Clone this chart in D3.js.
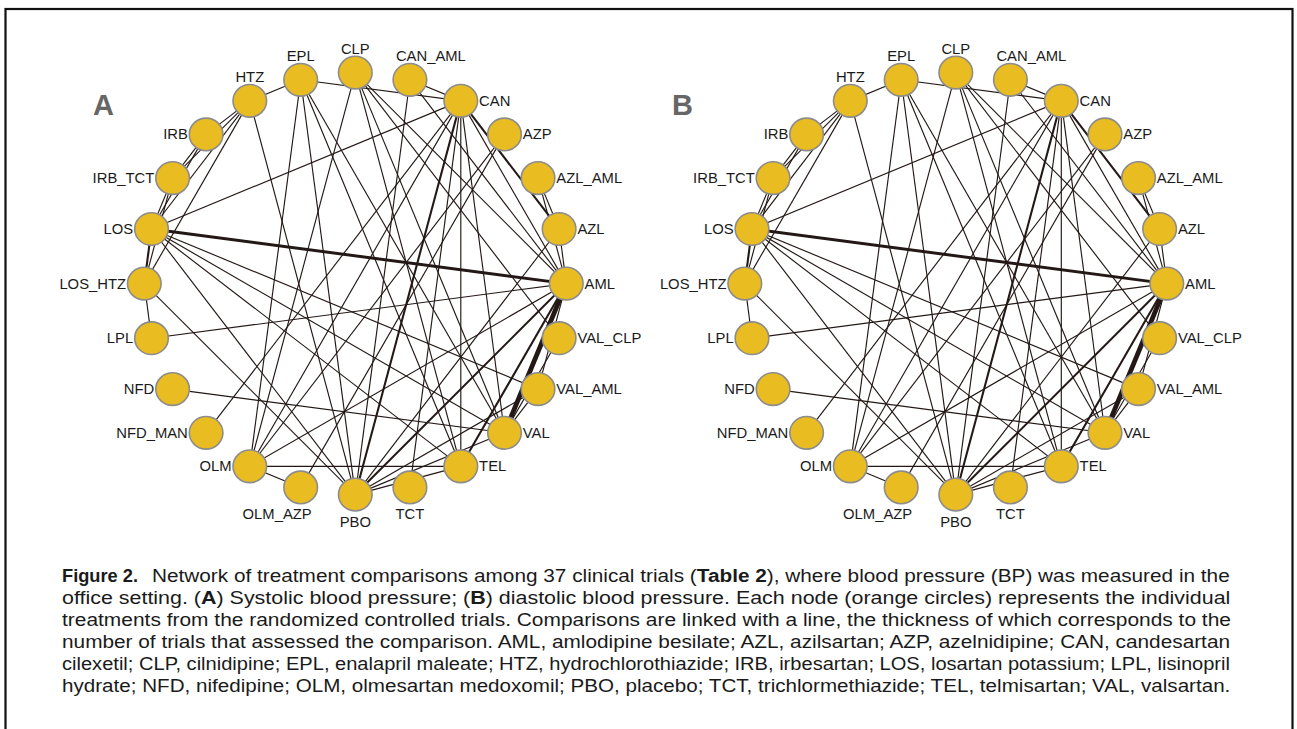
<!DOCTYPE html>
<html>
<head>
<meta charset="utf-8">
<script src="https://cdn.jsdelivr.net/npm/d3@7"></script>
<style>
  html, body { margin: 0; padding: 0; background: #fff; }
  svg { display: block; }
</style>
</head>
<body>
<svg id="chart" width="1297" height="729"></svg>
<script>
// ---- data ----
const treatments = ["CLP","CAN_AML","CAN","AZP","AZL_AML","AZL","AML","VAL_CLP","VAL_AML","VAL","TEL","TCT","PBO","OLM_AZP","OLM","NFD_MAN","NFD","LPL","LOS_HTZ","LOS","IRB_TCT","IRB","HTZ","EPL"];

const panelLetters = ["A", "B"];

// [treatment 1, treatment 2, number of trials]
const edgesA = [
  ["HTZ","EPL",1],["EPL","CAN",1],["CAN_AML","CAN",1],["CAN","AZL",2],["AZL_AML","AZL",1],["AZL_AML","AML",1],["AZL","AML",1],
  ["OLM","OLM_AZP",1],["OLM","TEL",1],["LOS_HTZ","LPL",1],["LOS","LOS_HTZ",2],
  ["HTZ","IRB",1],["HTZ","IRB_TCT",1],["HTZ","LOS",1],["HTZ","LOS_HTZ",1],["IRB","IRB_TCT",1],["IRB","LOS",1],["IRB_TCT","LOS",1],["IRB_TCT","LOS_HTZ",1],
  ["LOS","AML",3],["LOS","CAN",1],["LOS","VAL",1],["LOS","TEL",1],["LOS","PBO",1],["LOS","VAL_AML",1],["LOS_HTZ","PBO",1],["LPL","AML",1],["NFD","VAL",1],["NFD_MAN","CAN",1],
  ["HTZ","PBO",1],["EPL","OLM",1],["EPL","PBO",1],["EPL","TEL",1],["EPL","VAL",1],
  ["CLP","OLM",1],["CLP","TEL",1],["CLP","VAL",1],["CLP","VAL_CLP",1],["CLP","AML",1],
  ["CAN_AML","PBO",1],["CAN_AML","AML",1],
  ["CAN","OLM",1],["CAN","PBO",2],["CAN","TEL",1],["CAN","TCT",1],["CAN","AML",1],["CAN","VAL",1],
  ["AZP","OLM",1],["AZP","OLM_AZP",1],["AZL","PBO",1],
  ["AML","OLM",1],["AML","PBO",2],["AML","TEL",2],["AML","VAL",5],["AML","VAL_AML",1],
  ["VAL","VAL_AML",1],["VAL","VAL_CLP",1],["VAL","PBO",1],["TEL","PBO",1],["PBO","VAL_AML",1]
];

const edgesB = [
  ["HTZ","EPL",1],["EPL","CAN",1],["CAN_AML","CAN",1],["CAN","AZL",2],["AZL_AML","AZL",1],["AZL_AML","AML",1],["AZL","AML",1],
  ["OLM","OLM_AZP",1],["OLM","TEL",1],["LOS_HTZ","LPL",1],["LOS","LOS_HTZ",2],
  ["HTZ","IRB",1],["HTZ","IRB_TCT",1],["HTZ","LOS",1],["HTZ","LOS_HTZ",1],["IRB","IRB_TCT",1],["IRB","LOS",1],["IRB_TCT","LOS",1],["IRB_TCT","LOS_HTZ",1],
  ["LOS","AML",3],["LOS","CAN",1],["LOS","VAL",1],["LOS","TEL",1],["LOS","PBO",1],["LOS","VAL_AML",1],["LOS_HTZ","PBO",1],["LPL","AML",1],["NFD","VAL",1],["NFD_MAN","CAN",1],
  ["HTZ","PBO",1],["EPL","OLM",1],["EPL","PBO",1],["EPL","TEL",1],["EPL","VAL",1],
  ["CLP","OLM",1],["CLP","TEL",1],["CLP","VAL",1],["CLP","VAL_CLP",1],["CLP","AML",1],
  ["CAN_AML","PBO",1],["CAN_AML","AML",1],
  ["CAN","OLM",1],["CAN","PBO",2],["CAN","TEL",1],["CAN","TCT",1],["CAN","AML",1],["CAN","VAL",1],
  ["AZP","OLM",1],["AZP","OLM_AZP",1],["AZL","PBO",1],
  ["AML","OLM",1],["AML","PBO",2],["AML","TEL",2],["AML","VAL",5],["AML","VAL_AML",1],
  ["VAL","VAL_AML",1],["VAL","VAL_CLP",1],["VAL","PBO",1],["TEL","PBO",1],["PBO","VAL_AML",1]
];

const captionTitle = "Figure 2.";
const captionLines = [
  [["Network of treatment comparisons among 37 clinical trials (", ""], ["Table 2", "b"], ["), where blood pressure (BP) was measured in the", ""]],
  [["office setting. (", ""], ["A", "b"], [") Systolic blood pressure; (", ""], ["B", "b"], [") diastolic blood pressure. Each node (orange circles) represents the individual", ""]],
  [["treatments from the randomized controlled trials. Comparisons are linked with a line, the thickness of which corresponds to the", ""]],
  [["number of trials that assessed the comparison. AML, amlodipine besilate; AZL, azilsartan; AZP, azelnidipine; CAN, candesartan", ""]],
  [["cilexetil; CLP, cilnidipine; EPL, enalapril maleate; HTZ, hydrochlorothiazide; IRB, irbesartan; LOS, losartan potassium; LPL, lisinopril", ""]],
  [["hydrate; NFD, nifedipine; OLM, olmesartan medoxomil; PBO, placebo; TCT, trichlormethiazide; TEL, telmisartan; VAL, valsartan.", ""]]
];

// ---- drawing ----
const svg = d3.select("#chart");

// frame
svg.append("rect").attr("x", 5.5).attr("y", 9).attr("width", 1287).attr("height", 740)
  .attr("fill", "none").attr("stroke", "#111").attr("stroke-width", 2.2);

const n = treatments.length;
const angle = d3.scaleLinear().domain([0, n]).range([0, 2 * Math.PI]);
const widthScale = d3.scaleLinear().domain([1, 5]).range([1.15, 4.8]);

const panels = [
  { letter: panelLetters[0], cx: 355.3, cy: 283.6, edges: edgesA, lx: 93, ly: 115 },
  { letter: panelLetters[1], cx: 955.8, cy: 283.6, edges: edgesB, lx: 672, ly: 115 }
];
const R = 211;
const rx = 16.8, ry = 16.3;

panels.forEach(p => {
  const g = svg.append("g");
  const radial = d3.scaleLinear().domain([0, 1]).range([0, R]);
  const pos = {};
  treatments.forEach((t, i) => {
    const a = angle(i);
    pos[t] = { x: p.cx + radial(1) * Math.sin(a), y: p.cy - radial(1) * Math.cos(a), i };
  });

  g.append("text").attr("x", p.lx).attr("y", p.ly)
    .attr("font-family", "Liberation Sans, Arial, sans-serif").attr("font-weight", "bold")
    .attr("font-size", 29).attr("fill", "#666").text(p.letter);

  g.selectAll("line.edge").data(p.edges).join("line")
    .attr("class", "edge")
    .attr("x1", d => pos[d[0]].x).attr("y1", d => pos[d[0]].y)
    .attr("x2", d => pos[d[1]].x).attr("y2", d => pos[d[1]].y)
    .attr("stroke", "#231815").attr("stroke-width", d => widthScale(d[2]))
    .attr("stroke-linecap", "butt");

  g.selectAll("ellipse.node").data(treatments).join("ellipse")
    .attr("class", "node")
    .attr("cx", d => pos[d].x).attr("cy", d => pos[d].y)
    .attr("rx", rx).attr("ry", ry)
    .attr("fill", "#E9BC22").attr("stroke", "#8c8c8c").attr("stroke-width", 1.6);

  const topSet = ["HTZ","EPL","CLP","CAN_AML"];
  const bottomSet = ["OLM_AZP","PBO","TCT"];
  g.selectAll("text.lbl").data(treatments).join("text")
    .attr("class", "lbl")
    .attr("font-family", "Liberation Sans, Arial, sans-serif")
    .attr("font-size", 14.8).attr("fill", "#1a1a1a")
    .each(function(d) {
      const s = d3.select(this);
      const q = pos[d];
      let x, y, anchor;
      if (topSet.includes(d) || bottomSet.includes(d)) {
        y = topSet.includes(d) ? q.y - 19 : q.y + 32;
        if (d.length > 4) {
          if (q.x > p.cx) { anchor = "start"; x = q.x - 14; }
          else { anchor = "end"; x = q.x + 11; }
        } else { anchor = "middle"; x = q.x; }
      } else if (q.x > p.cx) {
        anchor = "start"; x = q.x + rx + 1.5; y = q.y + 5;
      } else {
        anchor = "end"; x = q.x - rx - 1.5; y = q.y + 5;
      }
      s.attr("x", x).attr("y", y).attr("text-anchor", anchor).text(d);
    });
});

// caption
const capX = 62, capRight = 1231, capY0 = 582, capDY = 22;
function fitText(t, x0, x1, y) {
  const natural = t.node().getComputedTextLength();
  const sx = (x1 - x0) / natural;
  t.attr("transform", `translate(${x0},${y}) scale(${sx},1)`);
}
const title = svg.append("text")
  .attr("font-family", "Liberation Sans, Arial, sans-serif")
  .attr("font-weight", "bold").attr("font-size", 18.5).attr("fill", "#1a1a1a")
  .text(captionTitle);
fitText(title, capX, 138, capY0);

captionLines.forEach((segs, li) => {
  const t = svg.append("text")
    .attr("font-family", "Liberation Sans, Arial, sans-serif")
    .attr("font-size", 18.5).attr("fill", "#1a1a1a")
    .style("white-space", "pre");
  segs.forEach(s => {
    const ts = t.append("tspan").text(s[0]);
    if (s[1] === "b") ts.attr("font-weight", "bold");
  });
  fitText(t, li === 0 ? 152 : capX, capRight, capY0 + li * capDY);
});
</script>
</body>
</html>
